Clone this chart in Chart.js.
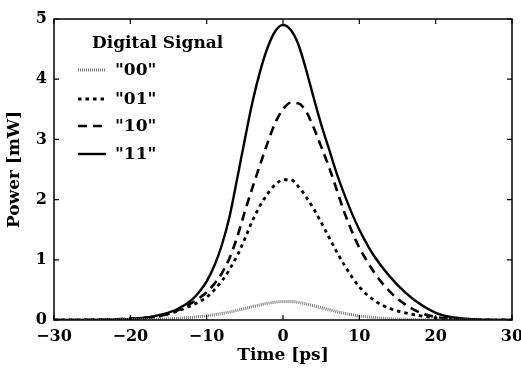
<!DOCTYPE html>
<html lang="en">
<head>
    <meta charset="UTF-8">
    <title>Power vs Time</title>
    <script src="https://cdn.jsdelivr.net/npm/chart.js"></script>
    <style>
        body { margin: 0; background: #fff; }
        .wrap { width: 521px; height: 371px; }
    </style>
</head>
<body>
    <div class="wrap"><canvas id="myChart" width="521" height="371"></canvas></div>
    <script>
        // time axis (ps)
        const timePs = [-30, -28, -26, -24, -22, -20, -18, -16, -14,
            -12, -11, -10, -9, -8, -7, -6, -5, -4, -3, -2, -1, 0,
            1, 2, 3, 4, 5, 6, 7, 8, 9, 10, 11, 12,
            14, 16, 18, 20, 22, 24, 26, 28, 30];

        // power (mW) for each digital signal
        const sig00 = [0, 0, 0, 0, 0.001, 0.003, 0.008, 0.015, 0.027,
            0.045, 0.057, 0.07, 0.088, 0.108, 0.132, 0.16, 0.19, 0.222, 0.252, 0.278, 0.297, 0.307,
            0.307, 0.293, 0.268, 0.238, 0.205, 0.172, 0.14, 0.112, 0.088, 0.068, 0.052, 0.04,
            0.022, 0.011, 0.005, 0.002, 0.001, 0, 0, 0, 0];
        const sig01 = [0, 0, 0.002, 0.005, 0.01, 0.02, 0.035, 0.07, 0.14,
            0.24, 0.3, 0.38, 0.5, 0.65, 0.84, 1.07, 1.35, 1.65, 1.9, 2.1, 2.25, 2.33,
            2.33, 2.22, 2.05, 1.85, 1.62, 1.38, 1.14, 0.92, 0.72, 0.55, 0.42, 0.32,
            0.19, 0.12, 0.07, 0.035, 0.015, 0.006, 0.002, 0.001, 0];
        const sig10 = [0, 0, 0.002, 0.005, 0.01, 0.02, 0.035, 0.07, 0.15,
            0.28, 0.36, 0.46, 0.6, 0.78, 1.03, 1.38, 1.8, 2.2, 2.58, 2.95, 3.28, 3.5,
            3.61, 3.6, 3.47, 3.2, 2.88, 2.55, 2.18, 1.8, 1.48, 1.2, 0.98, 0.78,
            0.47, 0.26, 0.12, 0.05, 0.02, 0.008, 0.003, 0.001, 0];
        const sig11 = [0, 0, 0.002, 0.004, 0.008, 0.017, 0.04, 0.09, 0.17,
            0.33, 0.46, 0.64, 0.9, 1.25, 1.72, 2.35, 3.0, 3.62, 4.13, 4.53, 4.80, 4.90,
            4.82, 4.58, 4.17, 3.7, 3.25, 2.85, 2.45, 2.1, 1.78, 1.5, 1.26, 1.05,
            0.72, 0.46, 0.26, 0.12, 0.05, 0.02, 0.007, 0.002, 0];

        const seriesNames = ['"00"', '"01"', '"10"', '"11"'];
        const xTicks = [-30, -20, -10, 0, 10, 20, 30];
        const yTicks = [0, 1, 2, 3, 4, 5];

        const serif = "'DejaVu Serif', serif";

        function pts(ys) {
            return timePs.map((t, i) => ({ x: t, y: ys[i] }));
        }

        const styles = [
            { color: '#7a7a7a', width: 3, dash: [1, 1] },
            { color: '#000', width: 2.8, dash: [3.5, 4] },
            { color: '#000', width: 2.6, dash: [9, 6] },
            { color: '#000', width: 2.4, dash: [] }
        ];
        const allSeries = [sig00, sig01, sig10, sig11];

        const datasets = allSeries.map((s, i) => ({
            label: seriesNames[i],
            data: pts(s),
            borderColor: styles[i].color,
            borderWidth: styles[i].width,
            borderDash: styles[i].dash,
            pointRadius: 0,
            fill: false,
            cubicInterpolationMode: 'monotone'
        }));

        // box around the plot + inward ticks on all four sides
        const frame = {
            id: 'frame',
            afterDraw(chart) {
                const { ctx, chartArea: a, scales } = chart;
                ctx.save();
                ctx.strokeStyle = '#000';
                ctx.lineWidth = 1.5;
                ctx.strokeRect(a.left, a.top, a.right - a.left, a.bottom - a.top);
                ctx.lineWidth = 1.2;
                const len = 5;
                xTicks.forEach(v => {
                    const px = scales.x.getPixelForValue(v);
                    ctx.beginPath();
                    ctx.moveTo(px, a.bottom); ctx.lineTo(px, a.bottom - len);
                    ctx.moveTo(px, a.top); ctx.lineTo(px, a.top + len);
                    ctx.stroke();
                });
                yTicks.forEach(v => {
                    const py = scales.y.getPixelForValue(v);
                    ctx.beginPath();
                    ctx.moveTo(a.left, py); ctx.lineTo(a.left + len, py);
                    ctx.moveTo(a.right, py); ctx.lineTo(a.right - len, py);
                    ctx.stroke();
                });
                ctx.restore();
            }
        };

        // legend drawn inside the upper-left corner
        const insideLegend = {
            id: 'insideLegend',
            afterDraw(chart) {
                const ctx = chart.ctx;
                ctx.save();
                ctx.fillStyle = '#000';
                ctx.font = 'bold 17px ' + serif;
                ctx.textBaseline = 'middle';
                ctx.fillText('Digital Signal', 92, 44);
                const rows = [70, 99, 126, 154];
                chart.data.datasets.forEach((ds, i) => {
                    ctx.beginPath();
                    ctx.strokeStyle = ds.borderColor;
                    ctx.lineWidth = ds.borderWidth;
                    ctx.setLineDash(ds.borderDash);
                    ctx.moveTo(78, rows[i]);
                    ctx.lineTo(106, rows[i]);
                    ctx.stroke();
                    ctx.setLineDash([]);
                    ctx.fillText(ds.label, 115, rows[i] + 1);
                });
                ctx.restore();
            }
        };

        const fmt = v => (v < 0 ? '\u2212' + Math.abs(v) : String(v));

        new Chart(document.getElementById('myChart'), {
            type: 'line',
            data: { datasets: datasets },
            options: {
                responsive: false,
                animation: false,
                layout: { padding: { top: 19, right: 9, left: 0, bottom: 0 } },
                plugins: { legend: { display: false }, tooltip: { enabled: false } },
                scales: {
                    x: {
                        type: 'linear',
                        min: -30, max: 30,
                        afterBuildTicks: s => { s.ticks = xTicks.map(v => ({ value: v })); },
                        afterFit: s => {
                            s.height = 51;
                            s.paddingLeft = 0;
                            s.paddingRight = 0;
                        },
                        grid: { display: false, drawTicks: false },
                        border: { display: false },
                        ticks: {
                            color: '#000', padding: 7,
                            font: { family: serif, size: 16, weight: 'bold' },
                            callback: v => fmt(v),
                            maxRotation: 0
                        },
                        title: {
                            display: true, text: 'Time [ps]', color: '#000',
                            font: { family: serif, size: 17, weight: 'bold' },
                            padding: { top: 0, bottom: 5 }
                        }
                    },
                    y: {
                        min: 0, max: 5,
                        afterBuildTicks: s => { s.ticks = yTicks.map(v => ({ value: v })); },
                        afterFit: s => {
                            s.width = 54;
                            s.paddingTop = 0;
                            s.paddingBottom = 0;
                        },
                        grid: { display: false, drawTicks: false },
                        border: { display: false },
                        ticks: {
                            color: '#000', padding: 7,
                            font: { family: serif, size: 16, weight: 'bold' },
                            callback: v => fmt(v)
                        },
                        title: {
                            display: true, text: 'Power [mW]', color: '#000',
                            font: { family: serif, size: 17, weight: 'bold' },
                            padding: { top: 4, bottom: 2 }
                        }
                    }
                }
            },
            plugins: [frame, insideLegend]
        });
    </script>
</body>
</html>
